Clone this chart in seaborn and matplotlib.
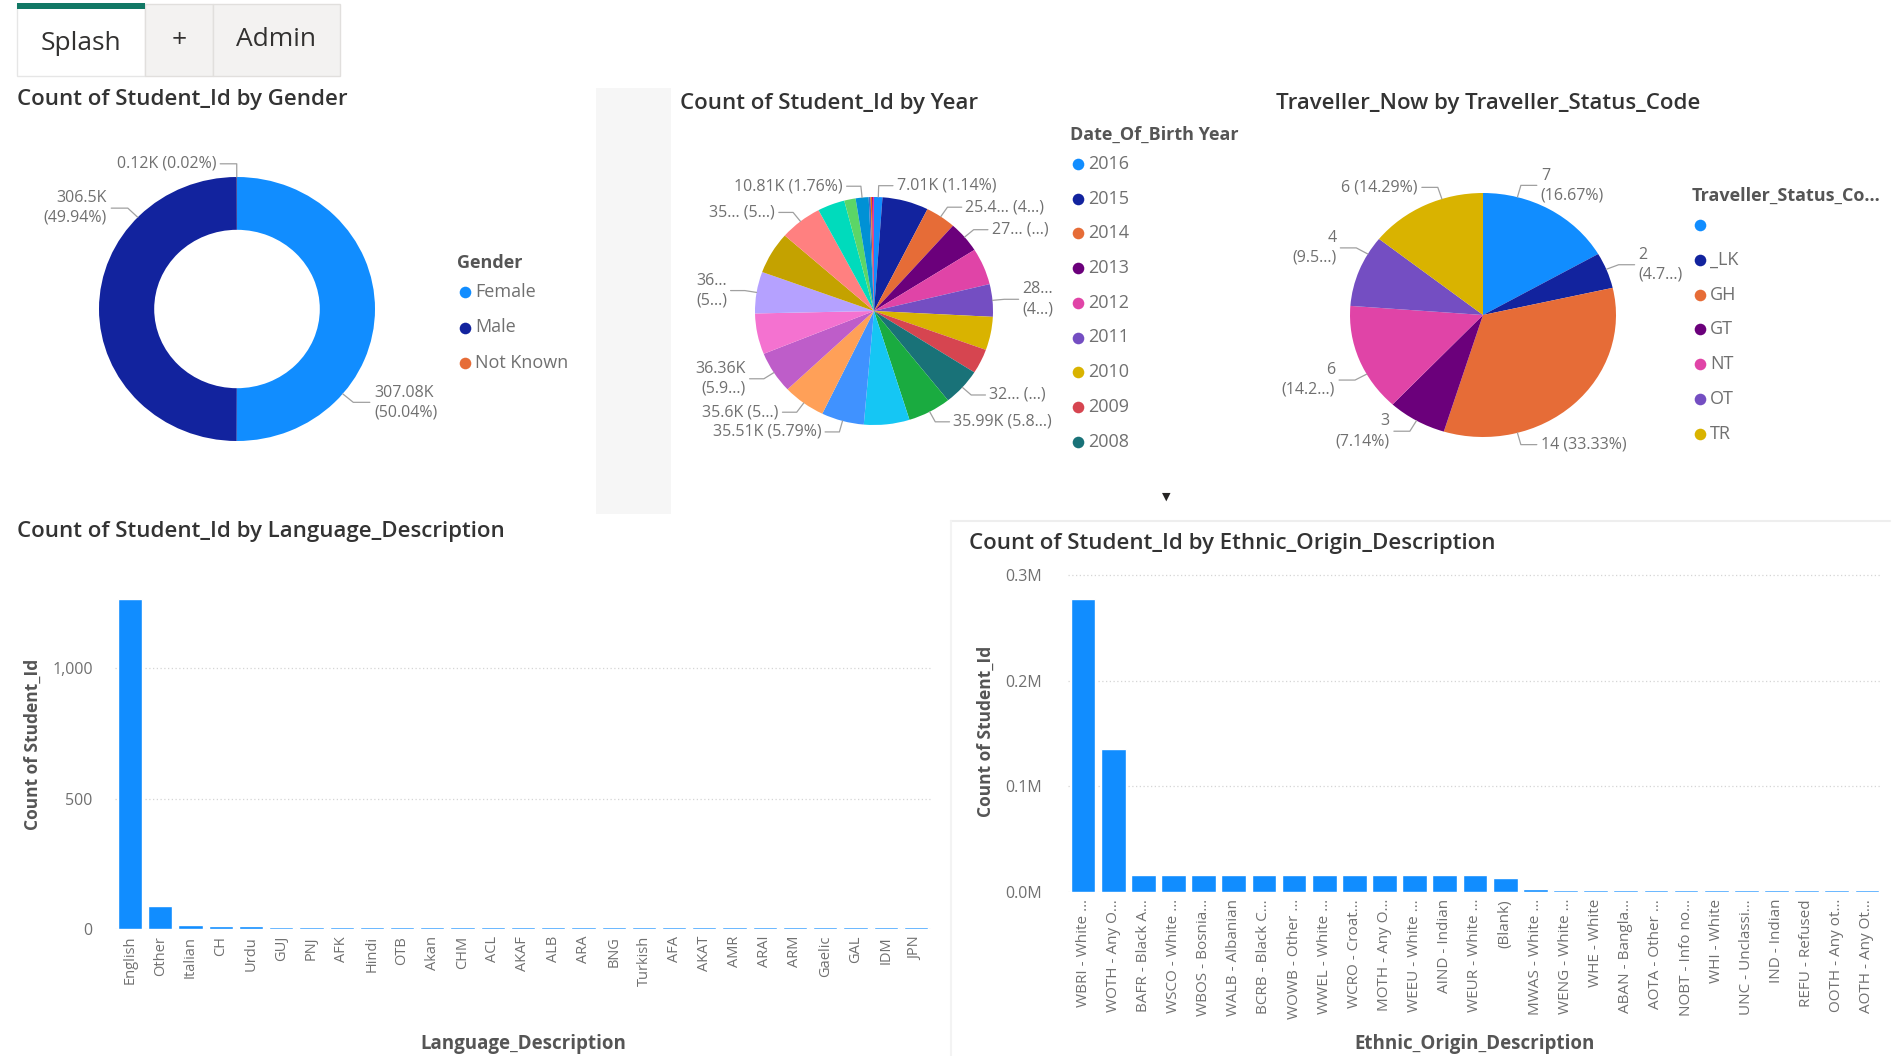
import numpy as np
import pandas as pd
import matplotlib
matplotlib.use("Agg")
import matplotlib.pyplot as plt
from matplotlib.patches import Rectangle
from matplotlib.ticker import FuncFormatter, FixedLocator
import seaborn as sns

# =========================================================
#   DATA
# =========================================================
gender = ["Female", "Male", "Not Known"]
gender_count = [307080, 306500, 120]
gender_labels = ["307.08K\n(50.04%)", "306.5K\n(49.94%)", "0.12K (0.02%)"]

years = ["2016", "2015", "2014", "2013", "2012", "2011", "2010", "2009", "2008",
         "2007", "2006", "2005", "2004", "2003", "2002", "2001", "2000", "1999",
         "1998", "1997", "1996", "1995", "1994", "1993", "1992"]
year_count_k = [7.01, 38.5, 25.4, 27.3, 32.0, 28.3, 29.0, 21.5, 32.4,
                35.99, 38.0, 35.51, 35.6, 36.36, 35.5, 36.2, 36.6, 35.4,
                22.7, 9.5, 10.81, 1.6, 1.2, 1.0, 0.6]
year_labels = ["7.01K (1.14%)", None, "25.4... (4...)", "27... (...)", None,
               "28...\n(4...)", None, None, "32... (...)", "35.99K (5.8...)",
               None, "35.51K (5.79%)", "35.6K (5...)", "36.36K\n(5.9...)", None,
               "36...\n(5...)", None, "35... (5...)", None, None,
               "10.81K (1.76%)", None, None, None, None]
year_legend_shown = 9

travel_code = ["", "_LK", "GH", "GT", "NT", "OT", "TR"]
travel_now = [7, 2, 14, 3, 6, 4, 6]
travel_labels = ["7\n(16.67%)", "2\n(4.7...)", "14 (33.33%)", "3\n(7.14%)",
                 "6\n(14.2...)", "4\n(9.5...)", "6 (14.29%)"]

languages = ["English", "Other", "Italian", "CH", "Urdu", "GUJ", "PNJ", "AFK",
             "Hindi", "OTB", "Akan", "CHM", "ACL", "AKAF", "ALB", "ARA", "BNG",
             "Turkish", "AFA", "AKAT", "AMR", "ARAI", "ARM", "Gaelic", "GAL",
             "IDM", "JPN"]
language_count = [1265, 88, 14, 11, 10, 8, 8, 8, 8, 8, 8, 8, 8, 8, 8, 8, 8,
                  8, 8, 8, 8, 8, 8, 8, 8, 8, 8]

ethnic = ["WBRI - White …", "WOTH - Any O…", "BAFR - Black A…", "WSCO - White …",
          "WBOS - Bosnia…", "WALB - Albanian", "BCRB - Black C…", "WOWB - Other …",
          "WWEL - White …", "WCRO - Croat…", "MOTH - Any O…", "WEEU - White …",
          "AIND - Indian", "WEUR - White …", "(Blank)", "MWAS - White …",
          "WENG - White …", "WHE - White", "ABAN - Bangla…", "AOTA - Other …",
          "NOBT - Info no…", "WHI - White", "UNC - Unclassi…", "IND - Indian",
          "REFU - Refused", "OOTH - Any ot…", "AOTH - Any Ot…"]
ethnic_count = [277000, 135000, 16500, 15800, 15800, 15800, 15800, 15800,
                15800, 15800, 15800, 15800, 15800, 15800, 13000, 3000,
                1500, 1500, 1500, 1500, 1500, 1500, 1500, 1500, 1500, 1500, 1500]

# Power BI default theme colours
pbi = ["#118DFF", "#12239E", "#E66C37", "#6B007B", "#E044A7", "#744EC2",
       "#D9B300", "#D64550", "#197278", "#1AAB40", "#15C6F4", "#4092FF",
       "#FFA058", "#BE5DC9", "#F472D0", "#B5A1FF", "#C4A200", "#FF8080",
       "#00DBBC", "#5BD667", "#0091D5", "#4668C5", "#FF6300", "#99008A",
       "#EC008C"]

# =========================================================
#   STYLE
# =========================================================
sns.set_theme(style="white")
plt.rcParams["font.family"] = ["Open Sans", "DejaVu Sans"]

W, H = 1895, 1056
TITLE_C = "#333333"
TEXT_C = "#707070"
LEAD_C = "#A0A0A0"
BLUE = "#118DFF"
TITLE_FONT = dict(fontsize=16, fontweight="semibold", color=TITLE_C)


def box(x0, y0, w, h):
    return [x0 / W, 1 - (y0 + h) / H, w / W, h / H]


fig = plt.figure(figsize=(W / 100, H / 100), dpi=100)
fig.patch.set_facecolor("white")

# overlay in pixel coordinates for tabs, titles, legends
ov = fig.add_axes([0, 0, 1, 1])
ov.set_xlim(0, W)
ov.set_ylim(H, 0)
ov.axis("off")
ov.set_zorder(-1)

# faint panel background / borders
ov.add_patch(Rectangle((596, 88), 75, 426, color="#F6F6F6", lw=0))
ov.plot([951, 1890], [521, 521], color="#EEEEEE", lw=1.5)
ov.plot([951, 951], [521, 1056], color="#F3F3F3", lw=1.5)

# tabs
ov.add_patch(Rectangle((17, 4), 128, 72, facecolor="white", edgecolor="#E6E6E6", lw=1))
ov.add_patch(Rectangle((145, 4), 68, 72, facecolor="#F3F2F1", edgecolor="#E1DFDD", lw=1))
ov.add_patch(Rectangle((213, 4), 127, 72, facecolor="#F3F2F1", edgecolor="#E1DFDD", lw=1))
ov.add_patch(Rectangle((17, 3), 128, 6, color="#117865", lw=0))
ov.text(81, 43, "Splash", ha="center", va="center", fontsize=19, color="#323130")
ov.text(179, 41, "+", ha="center", va="center", fontsize=19, color="#323130")
ov.text(276, 40, "Admin", ha="center", va="center", fontsize=19, color="#323130")

# chart titles
ov.text(17, 99, "Count of Student_Id by Gender", va="center", **TITLE_FONT)
ov.text(680, 103, "Count of Student_Id by Year", va="center", **TITLE_FONT)
ov.text(1276, 104, "Traveller_Now by Traveller_Status_Code", va="center", **TITLE_FONT)
ov.text(17, 531, "Count of Student_Id by Language_Description", va="center", **TITLE_FONT)
ov.text(969, 543, "Count of Student_Id by Ethnic_Origin_Description", va="center", **TITLE_FONT)
ov.text(1166, 497, "▼", ha="center", va="center", fontsize=8, color="#252423",
        family=["DejaVu Sans"])


def draw_legend(x, y_title, y_first, step, title, names, colors):
    ov.text(x, y_title, title, va="center", fontsize=13, fontweight="bold", color="#555555")
    for i, (n, c) in enumerate(zip(names, colors)):
        yy = y_first + i * step
        ov.scatter([x + 8], [yy], s=70, color=c, linewidths=0)
        ov.text(x + 18, yy, n, va="center", fontsize=13, color=TEXT_C)


def draw_pie(cx, cy, rx, ry, values, colors, labels, angles, hole=None):
    k = 1.7
    ax = fig.add_axes(box(cx - k * rx, cy - k * ry, 2 * k * rx, 2 * k * ry))
    wp = dict(linewidth=0)
    if hole:
        wp["width"] = hole
    ax.pie(values, colors=colors, startangle=90, counterclock=False, radius=1,
           wedgeprops=wp)
    ax.set_aspect("auto")
    ax.set_xlim(-k, k)
    ax.set_ylim(-k, k)
    ax.axis("off")
    ax.patch.set_alpha(0)
    for txt, th in zip(labels, angles):
        if txt is None:
            continue
        t = np.deg2rad(th)
        s = 1 if np.sin(t) >= 0 else -1
        x1, y1 = 1.1 * np.sin(t), 1.1 * np.cos(t)
        x2 = x1 + s * 0.12
        ax.plot([np.sin(t), x1, x2], [np.cos(t), y1, y1], color=LEAD_C, lw=0.9,
                clip_on=False)
        ax.text(x2 + s * 0.03, y1, txt, ha="left" if s > 0 else "right",
                va="center", fontsize=11.5, color=TEXT_C, linespacing=1.3)
    return ax


def mid_angles(values):
    v = np.asarray(values, dtype=float)
    cum = np.cumsum(v)
    return (cum - v / 2) / v.sum() * 360


# =========================================================
#   DONUT - GENDER
# =========================================================
draw_pie(237, 309, 138, 132, gender_count, pbi[:3], gender_labels,
         [130, 314, 359.9], hole=0.4)
draw_legend(457, 263, 292, 35.5, "Gender", gender, pbi[:3])

# =========================================================
#   PIE - YEAR
# =========================================================
draw_pie(874, 311, 119, 114, year_count_k, pbi[:len(years)], year_labels,
         mid_angles(year_count_k))
draw_legend(1070, 135, 164, 34.7, "Date_Of_Birth Year",
            years[:year_legend_shown], pbi[:year_legend_shown])

# =========================================================
#   PIE - TRAVELLER
# =========================================================
draw_pie(1483, 315, 133, 122, travel_now, pbi[:7], travel_labels,
         [15, 68, 165, 210, 241, 300, 342])
draw_legend(1692, 196, 225, 34.8, "Traveller_Status_Co...", travel_code, pbi[:7])

# =========================================================
#   BAR CHARTS
# =========================================================
def style_bar(ax, ylim, ticks, fmt, ypad, xsize, xlabel, ylabel, ylab_xy, xlab_xy):
    ax.set_ylim(0, ylim)
    ax.set_xlim(-0.5, 26.5)
    sns.despine(ax=ax, left=True, bottom=True)
    ax.yaxis.set_major_locator(FixedLocator(ticks))
    ax.yaxis.set_major_formatter(FuncFormatter(fmt))
    ax.grid(axis="y", color="#D5D5D5", ls=(0, (1, 2)), lw=0.9)
    ax.grid(axis="x", visible=False)
    ax.set_axisbelow(True)
    ax.tick_params(axis="x", rotation=90, length=0, pad=5, labelsize=xsize, labelcolor=TEXT_C)
    ax.tick_params(axis="y", length=0, pad=ypad, labelsize=11.5, labelcolor=TEXT_C)
    ax.set_xlabel(xlabel, fontsize=13.5, fontweight="bold", color="#555555")
    ax.set_ylabel(ylabel, fontsize=12.5, fontweight="bold", color="#555555")
    ax.yaxis.set_label_coords(*ylab_xy)
    ax.xaxis.set_label_coords(*xlab_xy)


axL = fig.add_axes(box(115, 560, 816, 369))
sns.barplot(x=languages, y=language_count, color=BLUE, saturation=1, width=0.8, ax=axL)
style_bar(axL, 1414, [0, 500, 1000], lambda v, p: f"{v:,.0f}", 16, 10.5,
          "Language_Description", "Count of Student_Id", (-0.09, 0.5), (0.5, -0.285))

axE = fig.add_axes(box(1068, 570, 814, 322))
sns.barplot(x=ethnic, y=ethnic_count, color=BLUE, saturation=1, width=0.82, ax=axE)
style_bar(axE, 304700, [0, 100000, 200000, 300000], lambda v, p: f"{v / 1e6:.1f}M", 19, 11,
          "Ethnic_Origin_Description", "Count of Student_Id", (-0.09, 0.5), (0.5, -0.44))

fig.savefig("out.png", dpi=100, facecolor="white")
